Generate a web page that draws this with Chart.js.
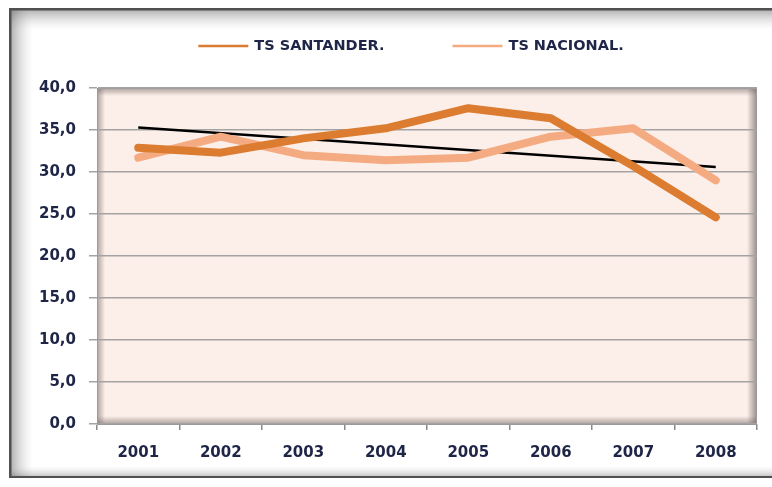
<!DOCTYPE html>
<html>
<head>
<meta charset="utf-8">
<script src="https://cdn.jsdelivr.net/npm/chart.js@4.4.1/dist/chart.umd.min.js"></script>
<style>
  html, body { margin: 0; padding: 0; background: #ffffff; }
  #wrap { width: 772px; height: 487px; position: relative; }
</style>
</head>
<body>
<div id="wrap"><canvas id="c" width="772" height="487"></canvas></div>
<script>
// Years on the horizontal axis
const years = ['2001', '2002', '2003', '2004', '2005', '2006', '2007', '2008'];

// Rate series (%)
const tsSantander = [32.9, 32.3, 34.0, 35.2, 37.6, 36.4, 30.7, 24.6];
const tsNacional  = [31.7, 34.2, 32.0, 31.4, 31.7, 34.2, 35.2, 29.0];

// Trend line of TS SANTANDER (end points only)
const trendSantander = [35.3, null, null, null, null, null, null, 30.6];

// Value axis ticks
const yMin = 0, yMax = 40, yStep = 5;

const seriesNames = ['TS SANTANDER.', 'TS NACIONAL.'];
const seriesColors = ['#DB7C30', '#F5AB82'];

const textColor = '#1F2547';
const labelFont = { family: '"DejaVu Sans", sans-serif', size: 15, weight: 'bold' };

// Framed background, pink plotting area with soft inner shadows, and the legend row
const decorPlugin = {
  id: 'decor',
  beforeDraw(chart) {
    const ctx = chart.ctx;
    const W = chart.width, H = chart.height;
    ctx.save();
    ctx.fillStyle = '#ffffff';
    ctx.fillRect(0, 0, W, H);

    // outer frame (top, left and bottom edges)
    const fx = 9, fy = 8, fr = 772, fb = 478;
    let g = ctx.createLinearGradient(0, fy, 0, fy + 22);
    g.addColorStop(0, 'rgba(90,90,90,0.55)');
    g.addColorStop(1, 'rgba(200,200,200,0)');
    ctx.fillStyle = g; ctx.fillRect(fx, fy, fr - fx, 22);
    g = ctx.createLinearGradient(fx, 0, fx + 24, 0);
    g.addColorStop(0, 'rgba(90,90,90,0.55)');
    g.addColorStop(1, 'rgba(200,200,200,0)');
    ctx.fillStyle = g; ctx.fillRect(fx, fy, 24, fb - fy);
    g = ctx.createLinearGradient(0, fb, 0, fb - 12);
    g.addColorStop(0, 'rgba(90,90,90,0.45)');
    g.addColorStop(1, 'rgba(200,200,200,0)');
    ctx.fillStyle = g; ctx.fillRect(fx, fb - 12, fr - fx, 12);
    ctx.fillStyle = '#505050';
    ctx.fillRect(fx, fy, fr - fx, 2.5);
    ctx.fillRect(fx, fy, 2.5, fb - fy);
    ctx.fillRect(fx, fb - 2, fr - fx, 2);

    // plotting area
    const a = chart.chartArea;
    ctx.fillStyle = '#FCEEE8';
    ctx.fillRect(a.left, a.top, a.right - a.left, a.bottom - a.top);
    const sh = (x0, y0, x1, y1, rx, ry, rw, rh, alpha) => {
      const gr = ctx.createLinearGradient(x0, y0, x1, y1);
      gr.addColorStop(0, 'rgba(110,100,100,' + alpha + ')');
      gr.addColorStop(1, 'rgba(110,100,100,0)');
      ctx.fillStyle = gr; ctx.fillRect(rx, ry, rw, rh);
    };
    const w = a.right - a.left, h = a.bottom - a.top;
    sh(0, a.top, 0, a.top + 8, a.left, a.top, w, 8, 0.55);
    sh(a.left, 0, a.left + 8, 0, a.left, a.top, 8, h, 0.55);
    sh(a.right, 0, a.right - 10, 0, a.right - 10, a.top, 10, h, 0.7);
    sh(0, a.bottom, 0, a.bottom - 8, a.left, a.bottom - 8, w, 8, 0.55);
    ctx.strokeStyle = '#9a9a9a';
    ctx.lineWidth = 1;
    ctx.strokeRect(a.left + 0.5, a.top + 0.5, w - 1, h - 1);
    ctx.restore();
  },
  afterDraw(chart) {
    // legend row for the two rate series
    const ctx = chart.ctx;
    ctx.save();
    ctx.font = 'bold 14.5px "DejaVu Sans", sans-serif';
    ctx.textBaseline = 'middle';
    const lineLen = 50, gapText = 6, gapItem = 68, cy = 46;
    const widths = seriesNames.map(t => ctx.measureText(t).width);
    const total = widths.reduce((s, v) => s + lineLen + gapText + v, 0) + gapItem;
    let x = 411 - total / 2;
    seriesNames.forEach((t, i) => {
      ctx.strokeStyle = seriesColors[i];
      ctx.lineWidth = 2.5;
      ctx.beginPath(); ctx.moveTo(x, cy); ctx.lineTo(x + lineLen, cy); ctx.stroke();
      x += lineLen + gapText;
      ctx.fillStyle = textColor;
      ctx.fillText(t, x, cy);
      x += widths[i] + gapItem;
    });
    ctx.restore();
  }
};

new Chart(document.getElementById('c'), {
  type: 'line',
  data: {
    labels: years,
    datasets: [
      {
        label: seriesNames[0],
        data: tsSantander,
        borderColor: seriesColors[0],
        borderWidth: 8,
        pointRadius: 0,
        borderCapStyle: 'round',
        borderJoinStyle: 'round',
        tension: 0
      },
      {
        label: seriesNames[1],
        data: tsNacional,
        borderColor: seriesColors[1],
        borderWidth: 8,
        pointRadius: 0,
        borderCapStyle: 'round',
        borderJoinStyle: 'round',
        tension: 0
      },
      {
        label: 'Tendencia',
        data: trendSantander,
        borderColor: '#000000',
        borderWidth: 2.5,
        pointRadius: 0,
        spanGaps: true,
        tension: 0
      }
    ]
  },
  options: {
    responsive: false,
    animation: false,
    devicePixelRatio: 1,
    layout: { padding: { left: 0, right: 15, top: 88, bottom: 18 } },
    plugins: {
      legend: { display: false },
      tooltip: { enabled: false }
    },
    scales: {
      x: {
        type: 'category',
        offset: true,
        grid: {
          offset: true,
          drawOnChartArea: false,
          drawTicks: true,
          tickLength: 6,
          color: '#8a8a8a',
          lineWidth: 1.5
        },
        border: { display: true, color: '#9a9a9a', width: 1 },
        ticks: { color: textColor, font: labelFont, padding: 14, maxRotation: 0 },
        afterFit(scale) { scale.height = 45; }
      },
      y: {
        min: yMin,
        max: yMax,
        grid: {
          color: '#a3a3a3',
          lineWidth: 1.5,
          tickLength: 8,
          drawTicks: true
        },
        border: { display: true, color: '#9a9a9a', width: 1 },
        ticks: {
          stepSize: yStep,
          color: textColor,
          font: labelFont,
          padding: 13,
          callback: v => v.toFixed(1).replace('.', ',')
        },
        afterFit(scale) { scale.width = 97; }
      }
    }
  },
  plugins: [decorPlugin]
});
</script>
</body>
</html>
